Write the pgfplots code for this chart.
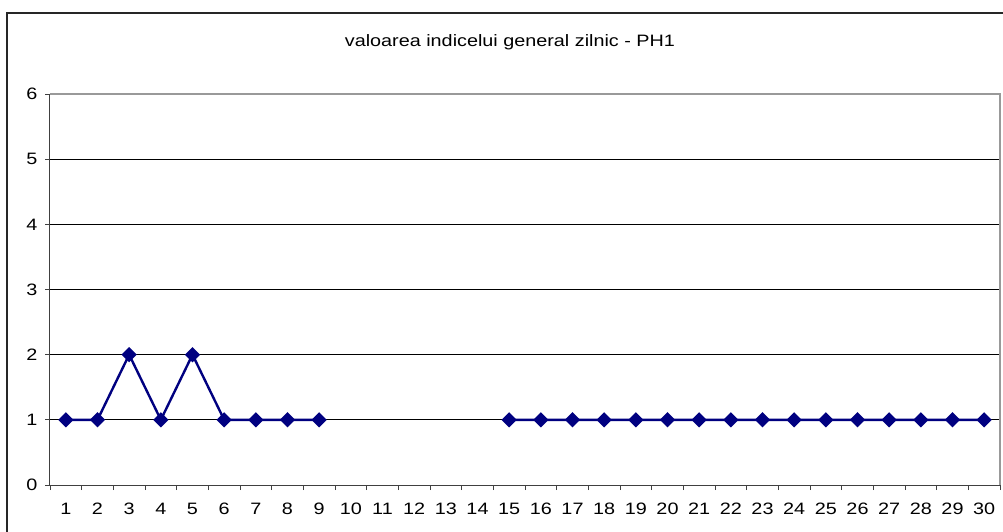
\documentclass[border=0pt]{standalone}
\usepackage{fontspec}
\setmainfont[FakeStretch=1.2]{Liberation Sans}
\usepackage{pgfplots}
\pgfplotsset{compat=1.18}
\definecolor{navy}{RGB}{0,0,128}
\begin{document}
\fontsize{16.5}{19}\selectfont
\begin{tikzpicture}[x=1pt,y=1pt]
\useasboundingbox (0,0) rectangle (1003,531);
\fill[white] (0,0) rectangle (1003,531);
\draw[line width=1.5pt, black!85] (7,518) rectangle (1012,-12);
\node[anchor=base, inner sep=0pt] at (510,484) {valoarea indicelui general zilnic - PH1};
\begin{axis}[at={(50pt,46pt)}, anchor=south west, scale only axis,
  width=950pt, height=391pt,
  xmin=0.5, xmax=30.5, ymin=0, ymax=6,
  xtick={1,...,30}, ytick={0,...,6},
  minor xtick={0.5,1.5,...,30.5},
  major x tick style={draw=none},
  tick align=outside, major tick length=5pt, minor tick length=5pt,
  axis x line*=bottom, axis y line*=left,
  axis line style={-, line width=1pt, black!75},
  ymajorgrids, grid style={black, line width=0.8pt},
  tick style={black!75, line width=0.8pt},
  ticklabel style={font=\fontsize{16.5}{19}\selectfont},
  xticklabel style={yshift=-7pt},
  yticklabel style={xshift=-2pt},
  /pgf/number format/assume math mode=true,
  unbounded coords=jump, clip=false]
\addplot[color=navy, line width=2.4pt, mark=square*, mark size=4.2pt, mark options={rotate=45, solid}] coordinates {
(1,1) (2,1) (3,2) (4,1) (5,2) (6,1) (7,1) (8,1) (9,1)
(10,nan) (11,nan) (12,nan) (13,nan) (14,nan)
(15,1) (16,1) (17,1) (18,1) (19,1) (20,1) (21,1) (22,1) (23,1) (24,1) (25,1) (26,1) (27,1) (28,1) (29,1) (30,1)};
\draw[gray!80, line width=1.5pt] (rel axis cs:0,1) -- (rel axis cs:1,1) -- (rel axis cs:1,0);
\end{axis}
\end{tikzpicture}
\end{document}
